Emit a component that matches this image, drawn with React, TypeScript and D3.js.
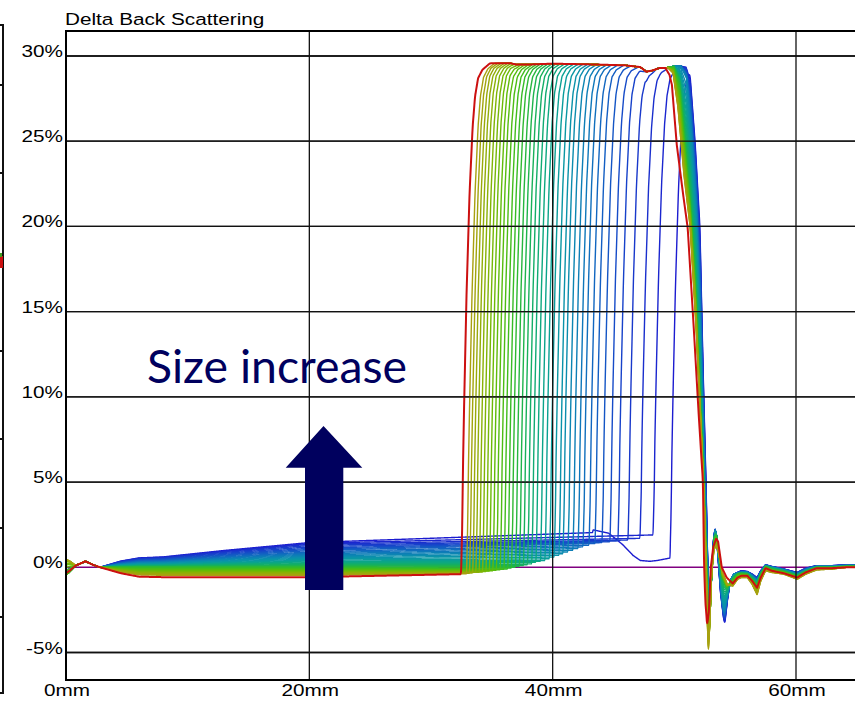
import React from "react";
import * as d3 from "d3";

// ---------- axis data ----------
const yTicks = [30, 25, 20, 15, 10, 5, 0, -5];
const yTickLabels = ["30%", "25%", "20%", "15%", "10%", "5%", "0%", "-5%"];
const xTicks = [0, 20, 40, 60];
const xTickLabels = ["0mm", "20mm", "40mm", "60mm"];
const chartTitle = "Delta Back Scattering";
const annotation = "Size increase";

// ---------- series data (curve 0 = first scan, blue; last = final scan, red) ----------
// position (mm) where each scan rises from the baseline to the plateau
const curveFront = [
  49.79, 48.4, 47.33, 46.34, 45.52, 44.86, 44.21, 43.63, 43.14, 42.65,
  42.24, 41.82, 41.41, 41.0, 40.67, 40.28, 39.89, 39.52, 39.15, 38.78,
  38.43, 38.09, 37.75, 37.42, 37.1, 36.77, 36.46, 36.15, 35.84, 35.53,
  35.24, 34.95, 34.67, 34.39, 34.11, 33.84, 33.58, 33.32, 33.07, 32.62,
];
// baseline level (%) at 20 mm
const baseAt20 = [
  1.45, 1.4, 1.35, 1.28, 1.2, 1.12, 1.05, 0.98, 0.9, 0.84,
  0.78, 0.72, 0.66, 0.6, 0.54, 0.48, 0.42, 0.37, 0.32, 0.27,
  0.22, 0.17, 0.12, 0.08, 0.04, 0.0, -0.04, -0.08, -0.12, -0.16,
  -0.2, -0.24, -0.27, -0.3, -0.33, -0.36, -0.4, -0.43, -0.47, -0.58,
];
// baseline level (%) just before the front
const baseAtFront = [
  2.2, 1.9, 1.7, 1.6, 1.55, 1.5, 1.45, 1.4, 1.3, 1.2,
  1.1, 1.0, 0.9, 0.8, 0.7, 0.6, 0.5, 0.4, 0.35, 0.3,
  0.2, 0.15, 0.1, 0.05, 0.0, -0.05, -0.1, -0.12, -0.15, -0.18,
  -0.2, -0.22, -0.25, -0.28, -0.3, -0.3, -0.32, -0.35, -0.38, -0.4,
];
// level (%) at 0 mm
const startLevel = [
  -0.2, -0.2, -0.2, -0.2, -0.2, -0.2, -0.2, -0.2, -0.2, -0.2,
  -0.2, -0.35, -0.35, -0.35, -0.35, -0.35, -0.35, -0.35, -0.35, -0.35,
  -0.35, -0.45, -0.45, -0.45, -0.45, -0.45, -0.45, -0.45, -0.45, -0.2,
  0.0, 0.15, 0.25, 0.35, 0.45, 0.45, 0.45, 0.45, 0.45, -0.35,
];
// common shape of the first millimetres
const startMm = [0, 0.3, 0.8, 1.6, 2.2, 2.8];
const startAbs = [0, 0.05, 0.1, 0.35, 0.15, 0];
const startRel = [1, 0.7, 0, 0, 0, 0];
// baseline ramp from 2.8 mm to 20 mm (fraction of the 20 mm level)
const rampMm = [2.8, 4.5, 6, 8, 13, 20];
const rampFracUp = [0, 0.25, 0.38, 0.42, 0.68, 1];
const rampFracDown = [0, 0.6, 0.95, 1, 1, 1];
// first scan: dip before its front
const bluestDip: [number, number][] = [
  [43.3, 2.2], [44.6, 2.0], [45.3, 1.6], [45.8, 1.3], [46.6, 0.7], [47.2, 0.4],
  [48.0, 0.35], [48.6, 0.4], [49.7, 0.55],
];
// shape of the rising front: [mm from front, fraction of rise]
const riseShape: [number, number][] = [
  [-0.15, 0], [-0.05, 0.1], [0, 0.2], [0.1, 0.33], [0.3, 0.55], [0.55, 0.75],
  [0.8, 0.88], [1.0, 0.94], [1.25, 0.975], [1.6, 0.99], [2.2, 1],
];
// plateau top (%)
const plateauTop: [number, number][] = [
  [0, 29.4], [33.5, 29.4], [35, 29.58], [36.5, 29.58], [37, 29.5], [38, 29.5],
  [40, 29.55], [43.6, 29.5], [46, 29.45], [47.2, 29.35], [47.7, 29.08],
  [48.2, 29.15], [48.8, 29.3], [49.3, 29.3], [50, 29.4], [52, 29.4],
];
// right edge + tail for representative scans
const edgeBlue: [number, number][] = [
  [51.0, 29.3], [51.3, 28.8], [51.7, 25], [52.1, 20], [52.35, 12], [52.6, 5],
  [52.75, 0], [52.9, -1.5], [53.05, -0.5], [53.2, 1.5], [53.35, 2.3], [53.55, 1.0],
  [53.8, -1.5], [54.05, -3.0], [54.15, -3.3], [54.35, -2.0], [54.6, -0.8], [54.9, -0.4],
  [55.5, -0.2], [56.0, -0.25], [56.4, -0.4], [56.8, -0.6], [57.1, -0.2], [57.5, 0.15],
  [58, 0.05], [59, -0.1], [60.1, -0.3], [60.8, -0.05], [61.7, 0.1], [63, 0.1],
  [64.2, 0.15], [66, 0.1],
];
const edgeTeal: [number, number][] = [
  [50.6, 29.3], [51.0, 28.7], [51.4, 25.5], [51.8, 21], [52.1, 15], [52.4, 7],
  [52.6, 2], [52.75, -0.5], [52.9, -1.8], [53.05, -0.8], [53.2, 1.0], [53.35, 2.2],
  [53.5, 1.8], [53.7, 0], [53.95, -2.0], [54.1, -2.6], [54.3, -1.8], [54.6, -0.8],
  [54.9, -0.4], [55.5, -0.3], [56.0, -0.3], [56.4, -0.5], [56.8, -0.8], [57.1, -0.3],
  [57.5, 0.1], [58, 0], [59, -0.15], [60.1, -0.4], [60.8, -0.15], [61.7, 0.05],
  [63, 0.05], [64.2, 0.1], [66, 0.1],
];
const edgeGreen: [number, number][] = [
  [50.0, 29.3], [50.4, 28.5], [50.8, 25.5], [51.3, 21.5], [51.7, 17], [52.1, 10],
  [52.4, 5], [52.6, 1], [52.75, -2.5], [52.85, -3.8], [52.95, -2.5], [53.1, 0.3],
  [53.3, 1.8], [53.45, 1.9], [53.65, 1.0], [53.95, -0.6], [54.3, -1.2], [54.7, -0.8],
  [55.2, -0.4], [55.5, -0.35], [56.0, -0.4], [56.4, -0.7], [56.8, -1.0], [57.1, -0.4],
  [57.5, 0.05], [58, -0.1], [59, -0.25], [60.1, -0.5], [60.8, -0.25], [61.7, 0],
  [63, 0], [64.2, 0.05], [66, 0.05],
];
const edgeOlive: [number, number][] = [
  [49.5, 29.3], [49.9, 29.0], [50.3, 27], [50.8, 23], [51.3, 20], [51.8, 14],
  [52.2, 8], [52.45, 4], [52.6, 0], [52.7, -3], [52.8, -4.8], [52.9, -3.5],
  [53.05, -0.5], [53.25, 1.0], [53.45, 1.3], [53.65, 0.8], [53.95, -0.3], [54.35, -1.0],
  [54.8, -1.1], [55.2, -0.7], [55.5, -0.6], [56.0, -0.6], [56.4, -1.0], [56.8, -1.6],
  [57.1, -0.8], [57.5, -0.2], [58, -0.3], [59, -0.4], [60.1, -0.7], [60.8, -0.4],
  [61.7, -0.15], [63, -0.1], [64.2, 0], [66, 0],
];
const edgeRed: [number, number][] = [
  [49.3, 29.25], [49.6, 28.9], [49.8, 28.3], [50.2, 24.8], [50.7, 22], [51.1, 19.9],
  [51.6, 14], [52.0, 9], [52.35, 5], [52.45, 0], [52.55, -2], [52.7, -3.4],
  [52.85, -2.5], [53.0, 0], [53.2, 1.2], [53.45, 1.7], [53.6, 1.5], [53.9, 0],
  [54.3, -0.6], [54.8, -0.95], [55.2, -0.6], [55.5, -0.5], [56.0, -0.5], [56.4, -0.8],
  [56.8, -1.2], [57.1, -0.6], [57.5, -0.05], [58.0, -0.2], [59.0, -0.35], [60.1, -0.6],
  [60.8, -0.3], [61.7, -0.05], [63.0, -0.05], [64.2, 0], [66, 0],
];
// which scan index each representative edge belongs to
const edgeAnchorIdx = [0, 12, 24, 37];
const edgeAnchors = [edgeBlue, edgeTeal, edgeGreen, edgeOlive];

// neighbouring panel tick rows (px of the neighbouring chart's own axis)
const neighbourTicks = [85, 173, 262, 351, 439, 528, 617];

// ---------- styles ----------
const palette = ["#1c1cd0", "#1650c8", "#0c80b8", "#08a0a0", "#10b060", "#40c010", "#80b800", "#a8a010"];
const finalColor = "#cc1010";
const zeroColor = "#800080";
const navy = "#00005e";
const FONT = "'Liberation Sans', Arial, sans-serif";

function pw(points: [number, number][]) {
  return d3
    .scaleLinear()
    .domain(points.map((p) => p[0]))
    .range(points.map((p) => p[1]))
    .clamp(true);
}

export default function App() {
  const W = 855;
  const H = 701;
  const plotLeft = 66;
  const plotTop = 31;
  const plotBottom = 680;
  const plotRight = 870;

  const x = d3.scaleLinear().domain([0, 60]).range([66, 796]);
  const y = d3.scaleLinear().domain([-5, 30]).range([652.5, 56]);

  const P = pw(plateauTop);
  const rise = pw(riseShape);
  const rampUp = d3.scaleLinear().domain(rampMm).range(rampFracUp).clamp(true);
  const rampDown = d3.scaleLinear().domain(rampMm).range(rampFracDown).clamp(true);
  const startA = d3.scaleLinear().domain(startMm).range(startAbs).clamp(true);
  const startR = d3.scaleLinear().domain(startMm).range(startRel).clamp(true);
  const dipF = pw(bluestDip);
  const edgeFns = edgeAnchors.map((e) => ({ f: pw(e), x0: e[0][0] }));
  const redEdge = { f: pw(edgeRed), x0: edgeRed[0][0] };
  const N = curveFront.length;

  const evalEdge = (e: { f: (v: number) => number; x0: number }, m: number) =>
    m < e.x0 ? P(m) : e.f(m);

  const edgeAt = (k: number, m: number) => {
    if (k === N - 1) return evalEdge(redEdge, m);
    if (k >= edgeAnchorIdx[edgeAnchorIdx.length - 1]) return evalEdge(edgeFns[edgeFns.length - 1], m);
    let i = 0;
    while (k >= edgeAnchorIdx[i + 1]) i++;
    const t = (k - edgeAnchorIdx[i]) / (edgeAnchorIdx[i + 1] - edgeAnchorIdx[i]);
    return (1 - t) * evalEdge(edgeFns[i], m) + t * evalEdge(edgeFns[i + 1], m);
  };

  const valueAt = (k: number, m: number) => {
    const f = curveFront[k];
    const s = startLevel[k];
    const b20 = baseAt20[k];
    const bF = baseAtFront[k];
    const base = (mm: number) => {
      if (mm <= 2.8) return startA(mm) + s * startR(mm);
      if (mm <= 20) return b20 * (b20 >= 0 ? rampUp(mm) : rampDown(mm));
      if (k === 0 && mm >= bluestDip[0][0]) return dipF(mm);
      return b20 + (bF - b20) * Math.min(1, (mm - 20) / (f - 20));
    };
    const d = m - f;
    let R: number;
    if (d < -0.15) R = base(m);
    else {
      const b0 = base(Math.min(m, f - 0.15));
      R = b0 + rise(d) * (P(m) - b0);
    }
    return Math.min(R, edgeAt(k, m));
  };

  const samples = d3.range(0, 65.5, 0.04);
  const line = d3
    .line<[number, number]>()
    .x((d) => x(d[0]))
    .y((d) => y(d[1]))
    .curve(d3.curveMonotoneX);
  const color = d3.interpolateRgbBasis(palette);

  const curves = curveFront.map((_, k) => {
    const pts: [number, number][] = samples.map((m) => [m, valueAt(k, m)]);
    const isLast = k === N - 1;
    return {
      d: line(pts) || "",
      stroke: isLast ? finalColor : color(k / (N - 2)),
      width: isLast ? 2 : 1.4,
    };
  });
  const zeroLine = line(samples.map((m) => [m, 0] as [number, number])) || "";

  const sx = 1.22;

  return (
    <svg
      width={W}
      height={H}
      style={{ position: "fixed", left: 0, top: 0, background: "#fff" }}
      fontFamily={FONT}
    >
      <rect x={0} y={0} width={W} height={H} fill="#fff" />
      <defs>
        <clipPath id="plotClip">
          <rect x={plotLeft} y={plotTop} width={plotRight - plotLeft} height={plotBottom - plotTop} />
        </clipPath>
      </defs>

      {/* neighbouring panel edge */}
      <g stroke="#111" strokeWidth={2} fill="none">
        <path d={`M0,25H3V693H0`} />
        {neighbourTicks.map((t) => (
          <line key={t} x1={0} x2={3} y1={t} y2={t} />
        ))}
      </g>
      <rect x={0} y={256} width={3} height={12} fill={finalColor} />
      <rect x={0} y={253} width={2} height={4} fill="#40a020" />

      {/* grid (no line at 0%: the zero reference scan sits there) */}
      <g stroke="#111" strokeWidth={1.3}>
        {yTicks
          .filter((t) => t !== 0)
          .map((t) => (
            <line key={t} x1={plotLeft} x2={plotRight} y1={y(t)} y2={y(t)} />
          ))}
      </g>

      {/* curves */}
      <g clipPath="url(#plotClip)" fill="none" strokeLinejoin="round">
        <path d={zeroLine} stroke={zeroColor} strokeWidth={1.6} />
        {curves.map((c, i) => (
          <path key={i} d={c.d} stroke={c.stroke} strokeWidth={c.width} />
        ))}
      </g>

      {/* grid over curves */}
      <g stroke="#111" strokeWidth={1.3}>
        {yTicks
          .filter((t) => t !== 0)
          .map((t) => (
            <line key={t} x1={plotLeft} x2={plotRight} y1={y(t)} y2={y(t)} />
          ))}
        {xTicks
          .filter((t) => t > 0)
          .map((t) => (
            <line key={t} x1={x(t)} x2={x(t)} y1={plotTop} y2={plotBottom} />
          ))}
      </g>
      {/* frame */}
      <path
        d={`M${plotRight},${plotTop}H${plotLeft}V${plotBottom}H${plotRight}`}
        stroke="#000"
        strokeWidth={2}
        fill="none"
      />

      {/* labels */}
      <g fontSize={17} fill="#000">
        <text transform={`translate(65,25) scale(${sx},1)`}>{chartTitle}</text>
        {yTicks.map((t, i) => (
          <text key={t} textAnchor="end" transform={`translate(63,${y(t) + 1}) scale(${sx},1)`}>
            {yTickLabels[i]}
          </text>
        ))}
        {xTicks.map((t, i) => (
          <text key={t} textAnchor="middle" transform={`translate(${x(t) + 1},696) scale(${sx},1)`}>
            {xTickLabels[i]}
          </text>
        ))}
      </g>

      {/* annotation */}
      <text
        x={147}
        y={383}
        fontFamily="Lato, 'Open Sans', sans-serif"
        fontSize={46}
        fill={navy}
        textLength={260}
        lengthAdjust="spacingAndGlyphs"
      >
        {annotation}
      </text>
      <path d="M323.5,426L362.3,467.7H343.3V590H305V467.7H285.7Z" fill={navy} />
    </svg>
  );
}
